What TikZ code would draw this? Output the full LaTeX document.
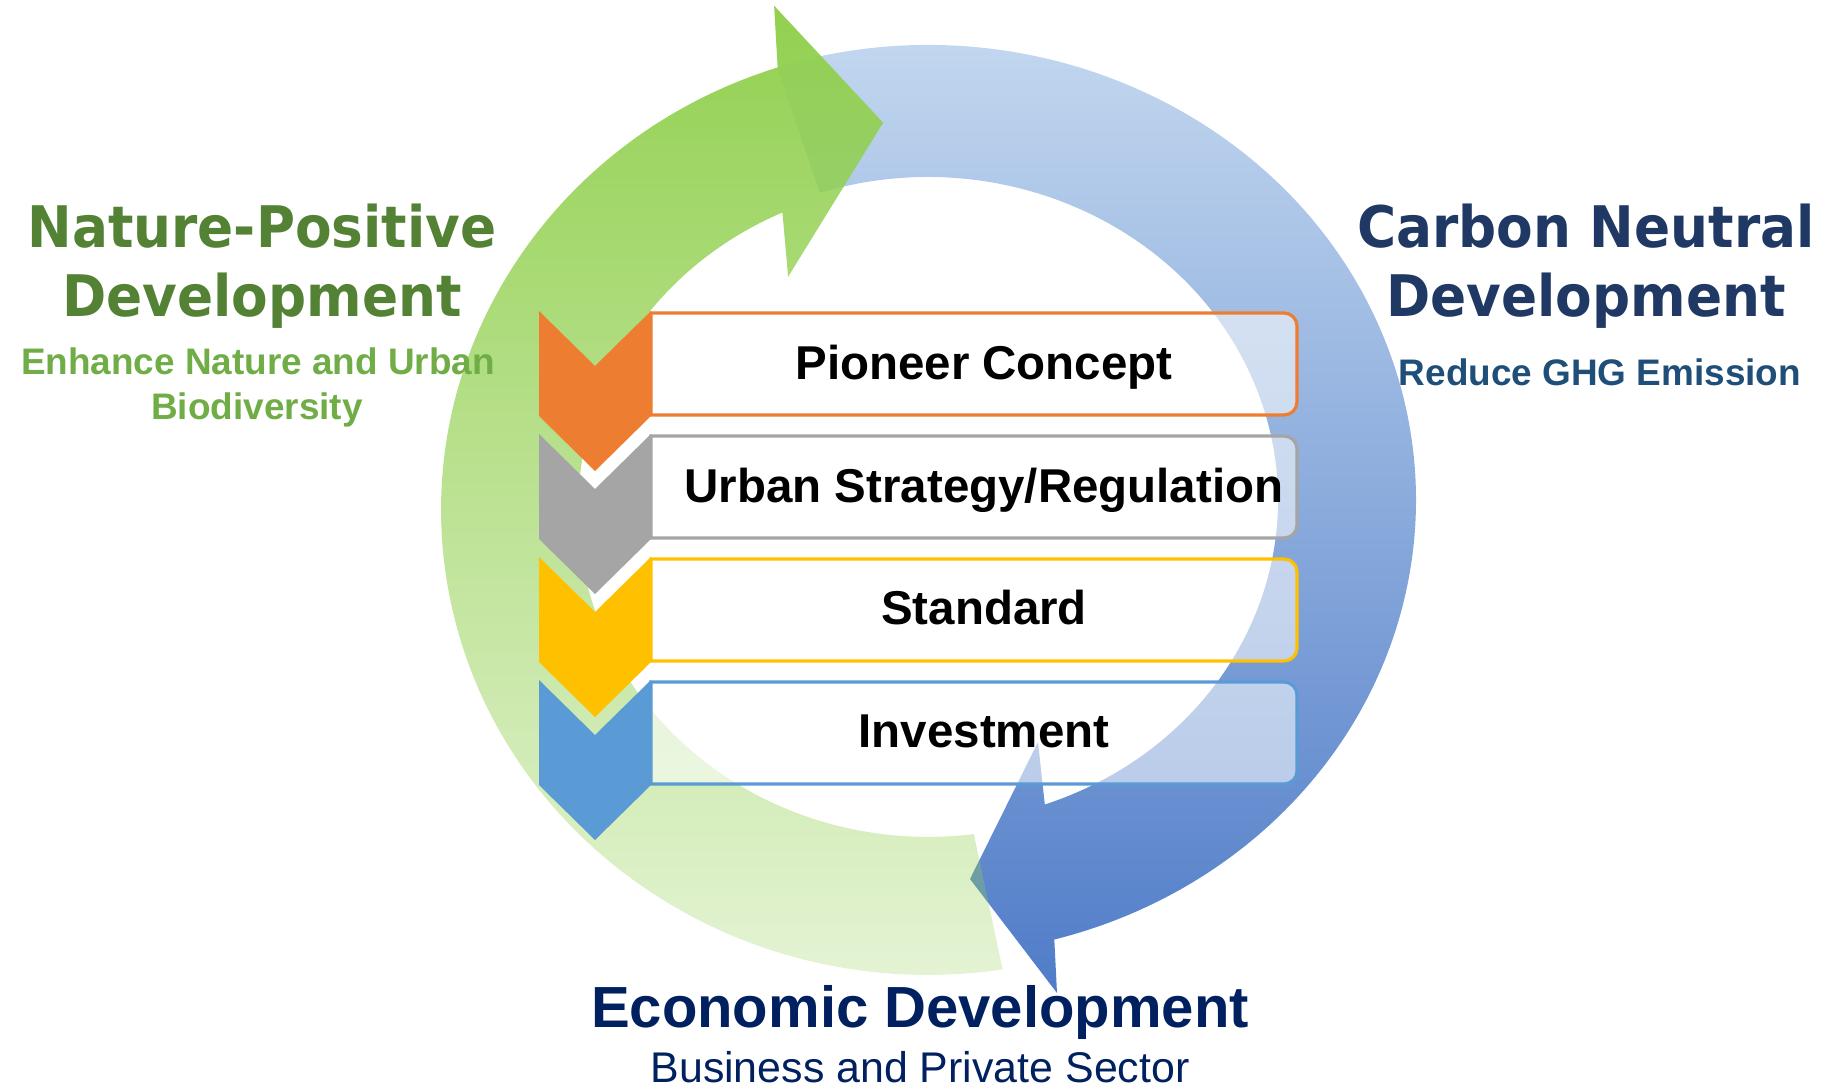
\documentclass[tikz,border=0pt]{standalone}
\usepackage{fontspec}
\setmainfont{Liberation Sans}
\newfontfamily\headfont[FakeStretch=0.93]{DejaVu Sans}
\usetikzlibrary{fadings}
\definecolor{natgreen}{RGB}{84,130,53}
\definecolor{subgreen}{RGB}{112,173,71}
\definecolor{carbonblue}{RGB}{32,56,100}
\definecolor{ghgblue}{RGB}{31,78,121}
\definecolor{econblue}{RGB}{0,32,96}
\definecolor{arrowgreen}{RGB}{146,208,80}
\definecolor{bluetop}{RGB}{200,220,241}
\definecolor{bluemid}{RGB}{160,188,230}
\definecolor{bluebot}{RGB}{80,124,200}
\definecolor{orangeC}{RGB}{237,125,49}
\definecolor{grayC}{RGB}{165,165,165}
\definecolor{goldC}{RGB}{255,192,0}
\definecolor{skyC}{RGB}{91,155,213}

\tikzfading[name=greenfade, top color=transparent!0, middle color=transparent!30, bottom color=transparent!78]

\tikzset{
  bigtitle/.style={font=\headfont\bfseries\fontsize{16.3}{20}\selectfont, anchor=base, inner sep=0pt},
  subtitle/.style={font=\bfseries\fontsize{10.5}{13}\selectfont, anchor=base, inner sep=0pt},
  stagetext/.style={font=\bfseries\fontsize{13.5}{16}\selectfont, anchor=base, inner sep=0pt},
}

\begin{document}
\begin{tikzpicture}[x=0.01cm, y=0.01cm]
\useasboundingbox (0,0) rectangle (1830,1087);

% blue arrow, top to bottom
\shade[top color=bluetop, middle color=bluemid, bottom color=bluebot]
  (777.2,1019.7) arc[start angle=108, end angle=-75, x radius=488, y radius=455]
  -- (1057,94) -- (970,208) -- (1038,345) -- (1044.8,282.5)
  arc[start angle=-70.5, end angle=108, x radius=350, y radius=323] -- cycle;

% green arrow, bottom to top
\fill[arrowgreen, path fading=greenfade]
  (1002.5,117.5) arc[start angle=278.8, end angle=108, x radius=487, y radius=465]
  -- (774,1081) -- (883,964) -- (788,810) -- (782.3,874.3)
  arc[start angle=114.6, end angle=277.5, x radius=350, y radius=327] -- cycle;

\foreach \t/\col in {776/orangeC, 653/grayC, 530/goldC, 407/skyC}{
  \filldraw[draw=\col, line width=0.9pt, fill=white, fill opacity=0.55]
    (651,\t-2) -- (1284,\t-2) arc[start angle=90, end angle=0, radius=13]
    -- (1297,\t-91) arc[start angle=0, end angle=-90, radius=13] -- (651,\t-104) -- cycle;
  \fill[\col] (539,\t) -- (595,\t-55) -- (651,\t) -- (651,\t-105) -- (595,\t-160) -- (539,\t-105) -- cycle;
}

\node[stagetext] (pioneer) at (984,707.5) {Pioneer Concept};
\node[stagetext] (urban) at (984,585) {Urban Strategy/Regulation};
\node[stagetext] (standard) at (984,462.5) {Standard};
\node[stagetext] (invest) at (984,340) {Investment};

\node[bigtitle, natgreen] (natureA) at (262,839) {Nature-Positive};
\node[bigtitle, natgreen] (natureB) at (262,770) {Development};
\node[subtitle, subgreen] (enhanceA) at (258,712) {Enhance Nature and Urban};
\node[subtitle, subgreen] (enhanceB) at (257,667) {Biodiversity};

\node[bigtitle, carbonblue] (carbonA) at (1586,839) {Carbon Neutral};
\node[bigtitle, carbonblue] (carbonB) at (1586,770) {Development};
\node[subtitle, ghgblue] (ghg) at (1600,702) {Reduce GHG Emission};

\node[anchor=base, inner sep=0pt, econblue, font=\bfseries\fontsize{16.5}{20}\selectfont] (econ) at (920,60) {Economic Development};
\node[anchor=base, inner sep=0pt, econblue, font=\fontsize{12.2}{15}\selectfont] (business) at (920,5) {Business and Private Sector};
\end{tikzpicture}
\end{document}
